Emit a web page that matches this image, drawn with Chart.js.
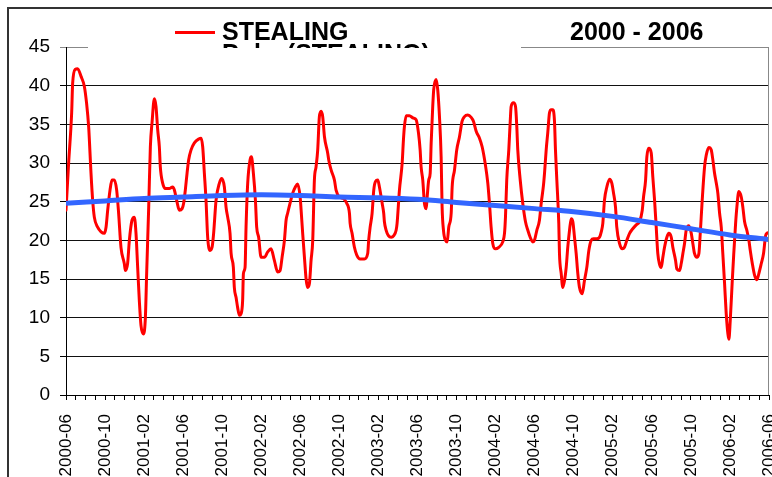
<!DOCTYPE html>
<html>
<head>
<meta charset="utf-8">
<script src="https://cdn.jsdelivr.net/npm/chart.js@4.4.0/dist/chart.umd.min.js"></script>
<style>
    html, body { margin: 0; padding: 0; background: #fff; }
    #wrap { width: 772px; height: 477px; position: relative; }
</style>
</head>
<body>
<div id="wrap"><canvas id="chart" width="772" height="477"></canvas></div>
<script>
// Axis labels, one every 4 months (x is months since 2000-06)
const tickLabels = ['2000-06', '2000-10', '2001-02', '2001-06', '2001-10', '2002-02', '2002-06',
    '2002-10', '2003-02', '2003-06', '2003-10', '2004-02', '2004-06', '2004-10', '2005-02',
    '2005-06', '2005-10', '2006-02', '2006-06'];

// STEALING series
const stealMonth = [
    0.00, 0.27, 0.58, 0.68, 0.95, 1.19, 1.54, 1.88, 2.11, 2.32, 2.56, 2.73, 2.90, 3.24, 3.59, 3.92,
    4.10, 4.27, 4.51, 4.71, 4.95, 5.19, 5.39, 5.63, 5.97, 6.08, 6.31, 6.49, 6.76, 7.00, 7.17, 7.34,
    7.51, 7.68, 7.92, 8.13, 8.26, 8.47, 8.64, 8.81, 9.05, 9.22, 9.39, 9.56, 9.66, 9.90, 10.17, 10.58,
    10.92, 11.10, 11.33, 11.61, 11.89, 12.05, 12.22, 12.40, 12.56, 12.81, 13.15, 13.59, 13.83, 14.00,
    14.17, 14.34, 14.51, 14.75, 14.96, 15.12, 15.37, 15.71, 15.94, 16.22, 16.39, 16.56, 16.80, 16.91,
    17.14, 17.24, 17.42, 17.58, 17.76, 17.93, 18.09, 18.17, 18.34, 18.44, 18.61, 18.85, 18.99, 19.19,
    19.40, 19.53, 19.73, 19.98, 20.32, 20.66, 21.00, 21.34, 21.68, 21.93, 22.13, 22.37, 22.54, 22.70,
    22.95, 23.22, 23.49, 23.73, 23.98, 24.08, 24.24, 24.42, 24.59, 24.75, 24.93, 25.10, 25.27, 25.44,
    25.61, 25.78, 25.95, 26.13, 26.29, 26.47, 26.80, 26.91, 27.15, 27.49, 27.66, 28.00, 28.41, 28.75,
    29.03, 29.10, 29.30, 29.54, 29.78, 30.12, 30.56, 30.90, 31.00, 31.15, 31.35, 31.52, 31.69, 31.93,
    32.10, 32.38, 32.54, 32.61, 32.79, 33.02, 33.30, 33.57, 33.81, 33.91, 34.15, 34.43, 34.56, 34.66,
    34.84, 35.17, 35.58, 35.86, 36.10, 36.27, 36.37, 36.54, 36.71, 36.89, 36.99, 37.15, 37.30, 37.40,
    37.56, 37.66, 37.91, 38.07, 38.25, 38.42, 38.52, 38.66, 38.86, 39.04, 39.20, 39.45, 39.55, 39.79,
    40.02, 40.30, 40.57, 40.81, 41.15, 41.50, 41.73, 42.01, 42.35, 42.62, 42.96, 43.20, 43.37, 43.54,
    43.71, 43.99, 44.32, 44.73, 44.91, 45.01, 45.14, 45.35, 45.49, 45.59, 45.83, 46.04, 46.17, 46.27,
    46.52, 46.78, 47.06, 47.30, 47.54, 47.81, 47.98, 48.22, 48.49, 48.67, 48.90, 49.01, 49.18, 49.34,
    49.52, 49.69, 49.86, 50.03, 50.13, 50.27, 50.47, 50.54, 50.72, 50.88, 51.06, 51.23, 51.39, 51.57,
    51.74, 51.91, 52.08, 52.25, 52.42, 52.59, 52.87, 53.10, 53.34, 53.55, 53.79, 54.03, 54.37, 54.64,
    54.82, 54.98, 55.15, 55.39, 55.67, 55.90, 56.08, 56.28, 56.41, 56.69, 56.97, 57.20, 57.44, 57.72,
    58.05, 58.40, 58.74, 59.02, 59.15, 59.36, 59.49, 59.69, 59.94, 60.10, 60.28, 60.45, 60.61, 60.79,
    60.96, 61.13, 61.30, 61.54, 61.74, 61.99, 62.15, 62.43, 62.56, 62.84, 63.01, 63.18, 63.35, 63.52,
    63.79, 64.04, 64.20, 64.37, 64.61, 64.82, 64.96, 65.16, 65.40, 65.57, 65.84, 66.08, 66.25, 66.42,
    66.60, 66.76, 66.94, 67.11, 67.27, 67.45, 67.62, 67.79, 67.89, 68.03, 68.24, 68.37, 68.58, 68.71,
    68.91, 69.16, 69.32, 69.50, 69.73, 69.94, 70.08, 70.29, 70.52, 70.76, 70.96, 71.21, 71.44, 71.65,
    71.78, 72.00
];
const stealValue = [
    23.9, 30.0, 36.5, 40.3, 42.1, 42.2, 41.2, 39.9, 37.7, 34.7, 28.7, 25.2, 23.0, 21.7, 21.1, 20.9,
    21.7, 23.9, 26.5, 27.8, 27.8, 26.5, 23.5, 19.1, 17.0, 16.1, 17.0, 20.0, 22.6, 23.0, 20.9, 16.5,
    12.2, 9.0, 7.9, 10.0, 15.7, 24.3, 32.1, 35.2, 38.3, 37.3, 34.3, 32.1, 29.5, 27.4, 26.7, 26.7,
    26.9, 26.5, 25.2, 23.9, 24.1, 24.8, 26.5, 28.7, 30.4, 31.7, 32.6, 33.1, 33.2, 32.1,
    28.7, 25.2, 20.4, 18.7, 19.1, 20.9, 25.2, 27.4, 28.0, 26.9, 24.3, 23.0, 20.9, 18.3,
    16.5, 13.9, 12.6, 11.3, 10.3, 10.5, 12.2, 15.7, 16.5, 21.7, 27.4, 30.4, 30.8, 28.7,
    25.2, 21.7, 20.4, 17.8, 17.8, 18.5, 18.9, 17.4, 15.9, 16.1, 17.8, 20.0, 22.6, 23.5,
    24.8, 26.1, 26.9, 27.3, 25.6, 23.9, 20.9, 17.8, 15.0, 13.9, 14.4, 17.4, 20.0, 27.8,
    29.5, 31.7, 36.0, 36.7, 36.0, 33.4, 31.3, 30.4, 29.1, 27.8, 26.5, 25.6, 25.4, 24.8,
    23.5, 22.2, 20.9, 19.1, 18.1, 17.6, 17.6, 18.3, 20.0, 21.7, 23.5, 26.5, 27.6, 27.8,
    26.9, 24.8, 23.5, 22.4, 21.3, 20.6, 20.4, 20.6, 21.3, 22.2, 26.5, 30.0, 33.0, 34.7,
    36.1, 36.1, 35.8, 35.6, 33.9, 31.7, 29.5, 27.8, 24.8, 24.1, 25.6, 27.8, 28.7, 32.6,
    37.3, 39.5, 40.8, 39.5, 36.0, 30.8, 24.3, 21.3, 20.0, 19.8, 21.7, 23.5, 26.9, 29.1,
    31.7, 33.4, 35.4, 36.0, 36.2, 35.9, 35.4, 34.1, 33.2, 32.1, 29.7, 27.4, 24.8, 21.7,
    19.6, 18.9, 19.1, 19.8, 20.9, 23.0, 27.8, 31.7, 35.2, 37.3, 37.8, 37.3, 34.7, 31.7,
    27.8, 24.8, 22.4, 21.3, 20.4, 19.8, 20.0, 21.3, 22.6, 24.8, 27.1, 28.7, 31.7, 33.9,
    36.5, 36.9, 36.9, 35.4, 31.7, 27.8, 22.2, 18.3, 15.7, 13.9, 14.8, 16.5, 19.1, 21.3,
    22.8, 22.4, 20.4, 18.3, 15.7, 13.9, 13.1, 14.8, 16.5, 18.7, 20.0, 20.2, 20.2, 20.4,
    21.1, 22.2, 25.2, 26.9, 27.9, 27.4, 26.1, 24.3, 21.7, 19.6, 18.9, 19.1, 20.0, 20.9,
    21.5, 22.0, 22.4, 23.9, 25.6, 27.8, 30.8, 31.9, 31.3, 28.2, 25.2, 21.7, 18.3, 16.9,
    16.5, 17.8, 19.1, 20.4, 20.9, 20.4, 19.1, 17.4, 16.3, 16.1, 17.0, 18.3, 19.6, 21.3,
    21.9, 20.9, 19.6, 18.3, 17.8, 18.3, 20.9, 25.2, 29.5, 31.0, 32.0, 31.7, 30.4, 28.7,
    27.4, 26.1, 23.5, 21.7, 18.3, 14.4, 10.5, 7.9, 7.2, 9.6, 14.8, 17.8, 22.2, 24.3,
    26.3, 25.6, 24.3, 22.4, 21.3, 20.0, 18.7, 17.0, 15.5, 14.9, 15.7, 17.0, 18.3, 20.6,
    20.9, 21.0
];

// Poly. (STEALING) trend, read every 4 months
const trendMonth = [0, 4, 8, 12, 16, 20, 24, 28, 32, 36, 40, 44, 48, 52, 56, 60, 64, 68, 72];
const trendValue = [24.8, 25.1, 25.4, 25.6, 25.8, 25.9, 25.8, 25.6, 25.5, 25.3, 24.9, 24.5,
    24.1, 23.7, 23.1, 22.3, 21.5, 20.7, 20.1];

const FONT = '"Liberation Sans", Arial, Helvetica, sans-serif';

// Legend, title and frames drawn on top of the chart
const decorations = {
    id: 'decorations',
    afterDraw(chart) {
        const ctx = chart.ctx;
        const area = chart.chartArea;
        ctx.save();

        // outer chart frame
        ctx.strokeStyle = '#333';
        ctx.lineWidth = 2;
        ctx.strokeRect(8, 8, 900, 600);

        // plot area right border
        ctx.fillStyle = '#888';
        ctx.fillRect(Math.round(area.right) - 1, area.top, 1, area.bottom - area.top);

        // legend box (covers part of the plot top and clips its second entry)
        ctx.fillStyle = '#fff';
        ctx.fillRect(88, 12, 433, 36);
        ctx.save();
        ctx.beginPath();
        ctx.rect(88, 12, 433, 36);
        ctx.clip();
        ctx.lineWidth = 3;
        ctx.strokeStyle = '#ff0000';
        ctx.beginPath();
        ctx.moveTo(175, 32.5);
        ctx.lineTo(215, 32.5);
        ctx.stroke();
        ctx.font = 'bold 25px ' + FONT;
        ctx.fillStyle = '#000';
        ctx.textBaseline = 'alphabetic';
        ctx.textAlign = 'left';
        ctx.fillText('STEALING', 222, 40);
        ctx.lineWidth = 5;
        ctx.strokeStyle = '#3366ff';
        ctx.beginPath();
        ctx.moveTo(175, 54);
        ctx.lineTo(215, 54);
        ctx.stroke();
        ctx.fillText('Poly. (STEALING)', 222, 62);
        ctx.restore();

        // title
        ctx.font = 'bold 25px ' + FONT;
        ctx.fillStyle = '#000';
        ctx.textAlign = 'left';
        ctx.fillText('2000 - 2006', 570, 40);
        ctx.restore();
    }
};

new Chart(document.getElementById('chart'), {
    type: 'line',
    data: {
        datasets: [
            {
                label: 'Poly. (STEALING)',
                data: trendMonth.map((m, i) => ({ x: m, y: trendValue[i] })),
                borderColor: '#3366ff',
                borderWidth: 5,
                pointRadius: 0,
                cubicInterpolationMode: 'monotone',
                order: 0
            },
            {
                label: 'STEALING',
                data: stealMonth.map((m, i) => ({ x: m, y: stealValue[i] })),
                borderColor: '#ff0000',
                borderWidth: 3,
                borderJoinStyle: 'round',
                borderCapStyle: 'round',
                pointRadius: 0,
                cubicInterpolationMode: 'monotone',
                order: 1
            }
        ]
    },
    options: {
        responsive: false,
        animation: false,
        devicePixelRatio: 1,
        layout: { padding: { top: 47, right: 3, left: 0, bottom: 0 } },
        plugins: {
            legend: { display: false },
            tooltip: { enabled: false }
        },
        scales: {
            x: {
                type: 'linear',
                min: 0,
                max: 72,
                afterFit: (scale) => {
                    scale.height = 82;
                    scale.paddingLeft = 0;
                    scale.paddingRight = 0;
                },
                ticks: {
                    stepSize: 1,
                    autoSkip: false,
                    minRotation: 90,
                    maxRotation: 90,
                    padding: 14,
                    color: '#000',
                    font: { family: FONT, size: 17 },
                    callback: (v) => (v % 4 === 0 ? tickLabels[v / 4] : '')
                },
                grid: {
                    drawOnChartArea: false,
                    drawTicks: true,
                    tickLength: 5,
                    tickColor: '#000'
                },
                border: { color: '#000', width: 1 }
            },
            y: {
                min: 0,
                max: 45,
                afterFit: (scale) => {
                    scale.width = 66;
                    scale.paddingTop = 0;
                    scale.paddingBottom = 0;
                },
                ticks: {
                    stepSize: 5,
                    padding: 10,
                    color: '#000',
                    font: { family: FONT, size: 19 }
                },
                grid: {
                    color: (c) => (c.tick && c.tick.value === 45 ? '#888' : '#111'),
                    tickColor: (c) => (c.tick && c.tick.value === 45 ? '#888' : '#000'),
                    tickLength: 6,
                    lineWidth: 1
                },
                border: { color: '#000', width: 1 }
            }
        }
    },
    plugins: [decorations]
});
</script>
</body>
</html>
